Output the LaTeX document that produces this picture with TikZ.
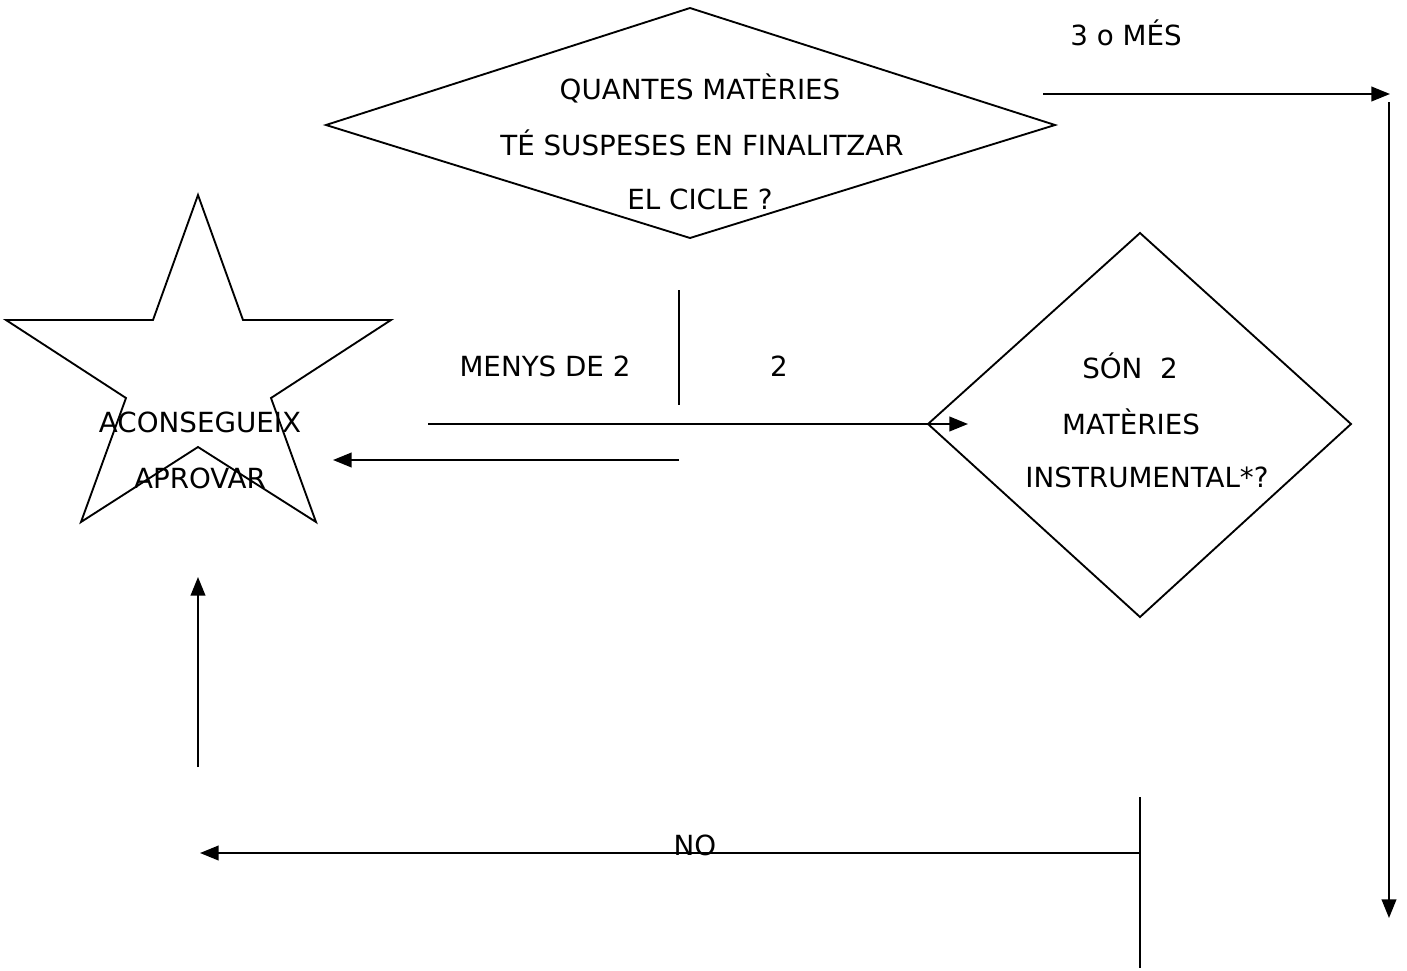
\documentclass[tikz,border=0pt]{standalone}
\usepackage{fontspec}
\setmainfont{DejaVu Sans}
\usetikzlibrary{arrows.meta}
\begin{document}
\begin{tikzpicture}[x=0.75pt,y=-0.75pt,
  ln/.style={line width=1.4pt, line join=miter},
  arr/.style={ln, -{Triangle[length=14pt,width=11pt]}},
  lbl/.style={inner sep=0pt, font=\fontsize{20.8}{24}\selectfont}]
\useasboundingbox (0,0) rectangle (1407,971);
% decision 1
\coordinate (d1w) at (326,125); \coordinate (d1n) at (690,8);
\coordinate (d1e) at (1055,125); \coordinate (d1s) at (690,238);
\draw[ln] (d1w) -- (d1n) -- (d1e) -- (d1s) -- cycle;
\node[lbl] (q1) at (700,88) {QUANTES MATÈRIES};
\node[lbl] (q2) at (702,143) {TÉ SUSPESES EN FINALITZAR};
\node[lbl] (q3) at (700,199) {EL CICLE ?};
% decision 2
\coordinate (d2w) at (928,424); \coordinate (d2n) at (1140,233);
\coordinate (d2e) at (1351,424); \coordinate (d2s) at (1140,617);
\draw[ln] (d2w) -- (d2n) -- (d2e) -- (d2s) -- cycle;
\node[lbl] (s1) at (1130,366) {SÓN\ \ 2};
\node[lbl] (s2) at (1131,422) {MATÈRIES};
\node[lbl] (s3) at (1147,477) {INSTRUMENTAL*?};
% star
\coordinate (st1) at (198,195); \coordinate (st2) at (243,320);
\coordinate (st3) at (391,320); \coordinate (st4) at (271,398);
\coordinate (st5) at (316,522); \coordinate (st6) at (198,447);
\coordinate (st7) at (81,522); \coordinate (st8) at (126,398);
\coordinate (st9) at (6,320); \coordinate (st10) at (153,320);
\draw[ln] (st1) -- (st2) -- (st3) -- (st4) -- (st5) -- (st6) -- (st7) -- (st8) -- (st9) -- (st10) -- cycle;
\node[lbl] (a1) at (200,422) {ACONSEGUEIX};
\node[lbl] (a2) at (200,478) {APROVAR};
% labels
\node[lbl] (l3) at (1126,33) {3 o MÉS};
\node[lbl] (lm) at (545,366) {MENYS DE 2};
\node[lbl] (l2) at (779,366) {2};
\node[lbl] (lno) at (695,845) {NO};
% connectors
\coordinate (c1a) at (1043,94); \coordinate (c1b) at (1390,94);
\draw[arr] (c1a) -- (c1b);
\coordinate (c2a) at (1389,102); \coordinate (c2b) at (1389,918);
\draw[arr] (c2a) -- (c2b);
\coordinate (c3a) at (679,290); \coordinate (c3b) at (679,405);
\draw[ln] (c3a) -- (c3b);
\coordinate (c4a) at (428,424); \coordinate (c4b) at (968,424);
\draw[arr] (c4a) -- (c4b);
\coordinate (c5a) at (679,460); \coordinate (c5b) at (333,460);
\draw[arr] (c5a) -- (c5b);
\coordinate (c6a) at (198,767); \coordinate (c6b) at (198,577);
\draw[arr] (c6a) -- (c6b);
\coordinate (c7a) at (1140,853); \coordinate (c7b) at (200,853);
\draw[arr] (c7a) -- (c7b);
\coordinate (c8a) at (1140,797); \coordinate (c8b) at (1140,968);
\draw[ln] (c8a) -- (c8b);
\end{tikzpicture}
\end{document}
